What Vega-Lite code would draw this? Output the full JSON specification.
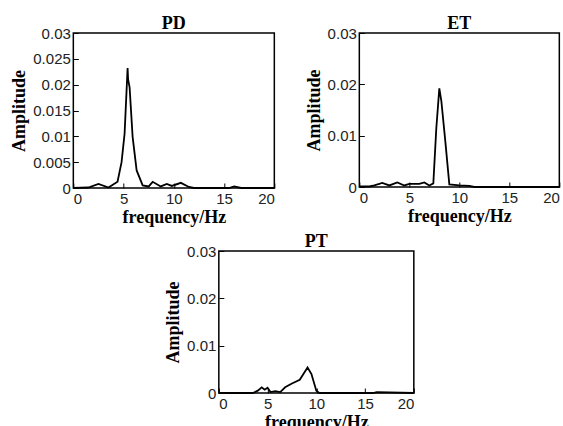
{
  "$schema": "https://vega.github.io/schema/vega-lite/v6.json",
  "background": "white",
  "padding": {"left": 10, "top": 14, "right": 0, "bottom": 0},
  "datasets": {
    "pd": [
      {"f": 0, "a": 0.0}, {"f": 1.5, "a": 0.0001}, {"f": 2.5, "a": 0.0008}, {"f": 3.5, "a": 0.0001},
      {"f": 4.4, "a": 0.0012}, {"f": 4.8, "a": 0.005}, {"f": 5.1, "a": 0.0105}, {"f": 5.4, "a": 0.0232},
      {"f": 5.45, "a": 0.021}, {"f": 5.6, "a": 0.0195}, {"f": 5.9, "a": 0.0099}, {"f": 6.3, "a": 0.0034},
      {"f": 6.9, "a": 0.0005}, {"f": 7.5, "a": 0.0003}, {"f": 7.9, "a": 0.0012}, {"f": 8.7, "a": 0.0003},
      {"f": 9.3, "a": 0.0008}, {"f": 9.8, "a": 0.0004}, {"f": 10.7, "a": 0.001}, {"f": 11.5, "a": 0.0002},
      {"f": 12, "a": 0.0}, {"f": 15.5, "a": 0.0}, {"f": 16, "a": 0.0003}, {"f": 16.7, "a": 0.0}, {"f": 20, "a": 0.0}
    ],
    "et": [
      {"f": 0, "a": 0.0001}, {"f": 1.0, "a": 0.0001}, {"f": 1.5, "a": 0.0003}, {"f": 2.3, "a": 0.0008},
      {"f": 3.0, "a": 0.0003}, {"f": 3.8, "a": 0.0009}, {"f": 4.5, "a": 0.0003}, {"f": 5.0, "a": 0.0006},
      {"f": 6.0, "a": 0.0006}, {"f": 6.5, "a": 0.0009}, {"f": 7.0, "a": 0.0003}, {"f": 7.4, "a": 0.0007},
      {"f": 7.7, "a": 0.0115}, {"f": 8.0, "a": 0.0192}, {"f": 8.2, "a": 0.0168}, {"f": 8.6, "a": 0.0089},
      {"f": 9.0, "a": 0.0005}, {"f": 10, "a": 0.0003}, {"f": 11, "a": 0.0002}, {"f": 11.5, "a": 0.0},
      {"f": 20, "a": 0.0}
    ],
    "pt": [
      {"f": 0, "a": 0.0}, {"f": 3.5, "a": 0.0}, {"f": 4.0, "a": 0.0005}, {"f": 4.4, "a": 0.0012},
      {"f": 4.7, "a": 0.0007}, {"f": 5.0, "a": 0.0011}, {"f": 5.3, "a": 0.0002}, {"f": 5.8, "a": 0.0004},
      {"f": 6.3, "a": 0.0002}, {"f": 6.8, "a": 0.0012}, {"f": 7.5, "a": 0.002}, {"f": 8.3, "a": 0.0028},
      {"f": 9.1, "a": 0.0054}, {"f": 9.5, "a": 0.004}, {"f": 10.0, "a": 0.0005}, {"f": 10.3, "a": 0.0},
      {"f": 15.8, "a": 0.0}, {"f": 16.2, "a": 0.0002}, {"f": 20, "a": 0.0}
    ]
  },
  "vconcat": [
    {
      "hconcat": [
        {
          "width": 201, "height": 155,
          "title": {"text": "PD"},
          "data": {"name": "pd"},
          "mark": {"type": "line", "color": "black", "strokeWidth": 1.8},
          "encoding": {
            "x": {"field": "f", "type": "quantitative", "scale": {"domain": [0, 20], "nice": false}, "axis": {"title": "frequency/Hz", "values": [0, 5, 10, 15, 20]}},
            "y": {"field": "a", "type": "quantitative", "scale": {"domain": [0, 0.03], "nice": false}, "axis": {"title": "Amplitude", "values": [0, 0.005, 0.01, 0.015, 0.02, 0.025, 0.03], "format": "~g"}}
          }
        },
        {
          "width": 200, "height": 154,
          "title": {"text": "ET"},
          "data": {"name": "et"},
          "mark": {"type": "line", "color": "black", "strokeWidth": 1.8},
          "encoding": {
            "x": {"field": "f", "type": "quantitative", "scale": {"domain": [0, 20], "nice": false}, "axis": {"title": "frequency/Hz", "values": [0, 5, 10, 15, 20]}},
            "y": {"field": "a", "type": "quantitative", "scale": {"domain": [0, 0.03], "nice": false}, "axis": {"title": "Amplitude", "values": [0, 0.01, 0.02, 0.03], "format": "~g"}}
          }
        }
      ]
    },
    {
      "width": 195, "height": 142,
      "title": {"text": "PT"},
      "data": {"name": "pt"},
      "mark": {"type": "line", "color": "black", "strokeWidth": 1.8},
      "encoding": {
        "x": {"field": "f", "type": "quantitative", "scale": {"domain": [0, 20], "nice": false}, "axis": {"title": "frequency/Hz", "values": [0, 5, 10, 15, 20]}},
        "y": {"field": "a", "type": "quantitative", "scale": {"domain": [0, 0.03], "nice": false}, "axis": {"title": "Amplitude", "values": [0, 0.01, 0.02, 0.03], "format": "~g"}}
      }
    }
  ],
  "center": true,
  "spacing": 5,
  "config": {
    "concat": {"spacing": 25},
    "view": {"stroke": "black", "strokeWidth": 1.5},
    "title": {"font": "Liberation Serif", "fontWeight": "bold", "fontSize": 18, "color": "black", "offset": -7},
    "axis": {
      "grid": false,
      "domain": false,
      "ticks": true,
      "tickColor": "black",
      "tickSize": -5,
      "tickWidth": 1,
      "labelFont": "Liberation Sans",
      "labelFontSize": 15,
      "labelColor": "#222",
      "labelPadding": 8,
      "titleFont": "Liberation Serif",
      "titleFontWeight": "bold",
      "titleFontSize": 18,
      "titleColor": "black"
    },
    "axisX": {"titlePadding": 2},
    "axisY": {"titlePadding": 4}
  }
}
